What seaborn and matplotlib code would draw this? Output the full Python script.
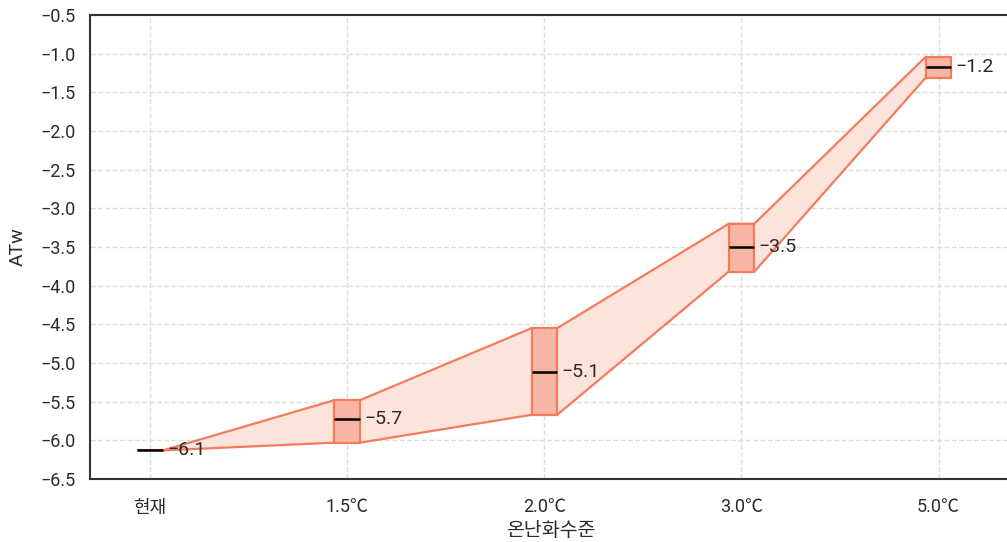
import numpy as np
import pandas as pd
import matplotlib
matplotlib.use("Agg")
import matplotlib.pyplot as plt
import seaborn as sns

# Warming levels and ATw summary (min / median / max)
categories = ["현재", "1.5℃", "2.0℃", "3.0℃", "5.0℃"]
atw_low = [-6.13, -6.03, -5.67, -3.82, -1.31]
atw_median = [-6.13, -5.73, -5.12, -3.50, -1.17]
atw_high = [-6.13, -5.48, -4.55, -3.20, -1.04]
y_ticks = [-6.5, -6.0, -5.5, -5.0, -4.5, -4.0, -3.5, -3.0, -2.5, -2.0, -1.5, -1.0, -0.5]

sns.set_style("whitegrid")
plt.rcParams["font.family"] = ["Roboto", "Noto Sans CJK KR", "DejaVu Sans"]
plt.rcParams["axes.unicode_minus"] = True

edge = "#f47c5c"
box_fill = "#f7b6a4"
band_fill = "#fce4dd"
text_col = "#2a2a2a"
half = 0.065

fig = plt.figure(figsize=(10.07, 5.42), dpi=100)
ax = fig.add_axes([0.0894, 0.1162, 0.915, 0.8561])

xpos = np.arange(len(categories))

# band between consecutive boxes, hugging their outer corners
bx, blo, bhi = [], [], []
for i, x in enumerate(xpos):
    bx += [x - half, x + half]
    blo += [atw_low[i], atw_low[i]]
    bhi += [atw_high[i], atw_high[i]]
bx, blo, bhi = bx[1:-1], blo[1:-1], bhi[1:-1]
ax.fill_between(bx, blo, bhi, color=band_fill, lw=0, zorder=1)

band = pd.DataFrame({"x": bx * 2, "y": blo + bhi,
                     "edge": ["low"] * len(bx) + ["high"] * len(bx)})
sns.lineplot(data=band, x="x", y="y", units="edge", estimator=None,
             color=edge, lw=1.6, ax=ax, zorder=2, sort=False)

# min-max boxes
heights = [h - l for h, l in zip(atw_high, atw_low)]
ax.bar(xpos, heights, bottom=atw_low, width=2 * half, color=box_fill,
       edgecolor=edge, linewidth=1.6, zorder=3)

# medians with labels
for x, m in zip(xpos, atw_median):
    ax.plot([x - half, x + half], [m, m], color="black", lw=1.8, zorder=4,
            solid_capstyle="butt")
    ax.text(x + half + 0.02, m, f"{m:.1f}".replace("-", "\u2212"),
            va="center", ha="left", fontsize=14, color=text_col, zorder=5)

ax.set_xlim(-0.305, 4.37)
ax.set_ylim(-6.5, -0.5)
ax.set_yticks(y_ticks)
ax.set_yticklabels([f"{v:.1f}".replace("-", "\u2212") for v in y_ticks])
ax.set_xticks(xpos)
ax.set_xticklabels(categories)
ax.tick_params(axis="both", labelsize=13, colors=text_col, length=0)
ax.tick_params(axis="y", pad=10)
ax.tick_params(axis="x", pad=14)

ax.grid(True, linestyle="--", color="#dddddd", linewidth=1.0)
ax.set_axisbelow(True)
for side in ["left", "bottom", "top", "right"]:
    ax.spines[side].set_color("#333333")
    ax.spines[side].set_linewidth(1.5)

ax.set_xlabel("온난화수준", fontsize=14, color=text_col, labelpad=4)
ax.set_ylabel("ATw", fontsize=14, color=text_col, labelpad=10)

fig.savefig("out.png", dpi=100)
